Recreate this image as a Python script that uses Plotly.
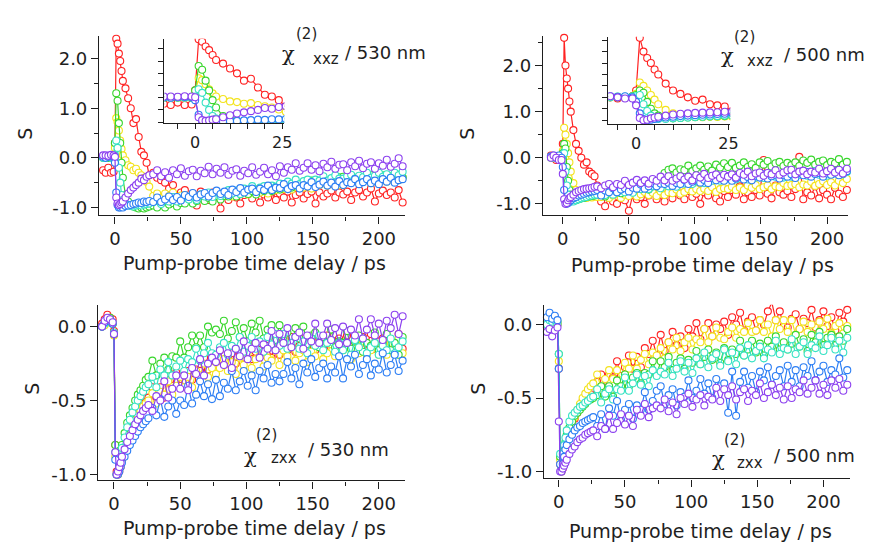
import plotly.graph_objects as go

# pump-probe delay (ps), shared by all four panels
t = [-9, -7, -5, -3, -1, 0, 1, 2, 3, 4, 5, 6, 8, 10, 12, 14, 16, 18, 20, 22, 24, 26,
     29, 32, 35, 38, 41, 44, 47, 50, 53, 56, 59, 62, 65, 68, 71, 74,
     77, 80, 83, 86, 89, 92, 95, 98, 101, 104, 107, 110, 113, 116, 119, 122,
     125, 128, 131, 134, 137, 140, 143, 146, 149, 152, 155, 158, 161, 164, 167, 170,
     173, 176, 179, 182, 185, 188, 191, 194, 197, 200, 203, 206, 209, 212, 215, 218]

# chi(2)xxz / 530 nm
tl_red = [-0.25, -0.3, -0.2, -0.3, -0.28, 0.3, 2.4, 2.3, 2.1, 1.95, 1.75, 1.55, 1.4, 1.2, 1.0, 0.7, 0.78, 0.42, 0.12, 0.05, -0.1, -0.35,
          -0.3, -0.4, -0.45, -0.5, -0.62, -0.55, -0.93, -0.7, -0.65, -0.8, -0.72, -0.96, -0.68, -0.75, -0.85, -0.7,
          -0.78, -1.02, -0.72, -0.85, -0.7, -0.8, -0.92, -0.75, -0.7, -0.82, -0.68, -0.9, -0.74, -0.8, -0.7, -0.85,
          -0.72, -0.8, -0.68, -0.9, -0.75, -0.7, -0.82, -0.73, -0.68, -0.92, -0.7, -0.78, -0.72, -0.66, -0.8, -0.7,
          -0.74, -0.68, -0.85, -0.7, -0.65, -0.78, -0.7, -0.62, -0.88, -0.72, -0.66, -0.75, -0.7, -0.8, -0.65, -0.9]
tl_yellow = [0.02, 0.0, 0.03, 0.0, 0.02, 0.2, 0.8, 0.72, 0.55, 0.35, 0.18, 0.05, -0.05, -0.15, -0.18, -0.25, -0.22, -0.3, -0.35, -0.4, -0.48, -0.58,
             -0.77, -0.72, -0.81, -0.72, -0.77, -0.7, -0.81, -0.76, -0.75, -0.84, -0.78, -0.82, -0.74, -0.85, -0.81, -0.77,
             -0.7, -0.79, -0.73, -0.71, -0.78, -0.71, -0.73, -0.64, -0.74, -0.69, -0.63, -0.7, -0.64, -0.72, -0.61, -0.65,
             -0.61, -0.63, -0.54, -0.64, -0.59, -0.53, -0.6, -0.54, -0.62, -0.51, -0.55, -0.47, -0.56, -0.51, -0.48, -0.55,
             -0.55, -0.45, -0.49, -0.42, -0.51, -0.46, -0.43, -0.51, -0.44, -0.47, -0.38, -0.48, -0.43, -0.38, -0.45, -0.4]
tl_green = [0.0, 0.02, 0.0, 0.02, 0.0, 0.3, 1.3, 1.15, 0.7, 0.3, -0.1, -0.4, -0.75, -0.88, -0.95, -0.98, -1.0, -1.02, -1.0, -1.02, -1.0, -0.98,
            -0.96, -1.0, -0.92, -1.0, -0.94, -0.91, -0.98, -0.91, -0.92, -0.83, -0.92, -0.87, -0.81, -0.87, -0.81, -0.88,
            -0.77, -0.84, -0.77, -0.78, -0.69, -0.78, -0.73, -0.67, -0.73, -0.67, -0.74, -0.63, -0.67, -0.58, -0.67, -0.61,
            -0.64, -0.59, -0.53, -0.6, -0.54, -0.61, -0.5, -0.54, -0.46, -0.55, -0.49, -0.46, -0.53, -0.46, -0.48, -0.39,
            -0.38, -0.48, -0.42, -0.4, -0.47, -0.41, -0.44, -0.35, -0.45, -0.4, -0.35, -0.43, -0.37, -0.45, -0.34, -0.39]
tl_cyan = [0.0, 0.0, 0.02, 0.0, 0.0, 0.05, 0.35, 0.2, -0.2, -0.5, -0.75, -0.85, -0.92, -0.95, -0.97, -0.98, -0.96, -0.95, -0.96, -0.94, -0.93, -0.92,
           -0.89, -0.86, -0.93, -0.86, -0.88, -0.79, -0.88, -0.83, -0.77, -0.84, -0.78, -0.85, -0.74, -0.78, -0.7, -0.79,
           -0.68, -0.77, -0.72, -0.65, -0.72, -0.66, -0.73, -0.62, -0.65, -0.57, -0.66, -0.6, -0.57, -0.63, -0.56, -0.58,
           -0.52, -0.59, -0.48, -0.52, -0.44, -0.53, -0.47, -0.44, -0.51, -0.44, -0.46, -0.37, -0.46, -0.41, -0.35, -0.42,
           -0.42, -0.37, -0.34, -0.42, -0.36, -0.39, -0.3, -0.4, -0.36, -0.3, -0.38, -0.33, -0.4, -0.3, -0.35, -0.28]
tl_blue = [0.02, 0.0, 0.02, 0.03, 0.02, -0.1, -0.7, -0.95, -1.0, -1.0, -0.98, -1.0, -0.97, -0.96, -0.95, -0.93, -0.92, -0.9, -0.91, -0.88, -0.89, -0.87,
           -0.89, -0.8, -0.89, -0.84, -0.78, -0.85, -0.79, -0.86, -0.75, -0.79, -0.71, -0.8, -0.74, -0.71, -0.78, -0.71,
           -0.66, -0.73, -0.68, -0.75, -0.64, -0.69, -0.61, -0.7, -0.64, -0.62, -0.69, -0.62, -0.65, -0.56, -0.65, -0.6,
           -0.61, -0.53, -0.63, -0.57, -0.55, -0.62, -0.55, -0.58, -0.49, -0.59, -0.54, -0.48, -0.56, -0.5, -0.58, -0.47,
           -0.55, -0.49, -0.51, -0.43, -0.53, -0.49, -0.43, -0.51, -0.46, -0.53, -0.43, -0.48, -0.4, -0.5, -0.45, -0.43]
tl_purple = [0.05, 0.05, 0.04, 0.06, 0.05, 0.02, -0.8, -0.92, -0.95, -0.93, -0.9, -0.88, -0.8, -0.72, -0.65, -0.6, -0.55, -0.5, -0.42, -0.45, -0.38, -0.35,
             -0.33, -0.25, -0.37, -0.29, -0.4, -0.25, -0.33, -0.21, -0.36, -0.27, -0.24, -0.37, -0.26, -0.31, -0.18, -0.33,
             -0.22, -0.3, -0.19, -0.34, -0.26, -0.23, -0.36, -0.26, -0.31, -0.19, -0.34, -0.28, -0.2, -0.33, -0.25, -0.37,
             -0.17, -0.3, -0.19, -0.24, -0.11, -0.26, -0.2, -0.11, -0.24, -0.15, -0.27, -0.12, -0.19, -0.08, -0.22, -0.14,
             -0.13, -0.25, -0.09, -0.17, -0.06, -0.21, -0.12, -0.09, -0.22, -0.11, -0.16, -0.04, -0.18, -0.12, -0.01, -0.17]

# chi(2)xxz / 500 nm
tr_red = [0.05, 0.0, -0.05, 0.0, 0.05, 0.3, 2.6, 2.0, 1.72, 1.5, 1.22, 1.0, 0.6, 0.3, 0.15, 0.0, -0.15, -0.1, -0.3, -0.35, -0.4, -0.6,
          -0.95, -1.05, -0.85, -0.95, -1.0, -0.88, -0.92, -1.15, -0.8, -0.9, -0.85, -1.0, -0.82, -0.7, -0.9, -0.8,
          -0.95, -0.75, -0.88, -0.7, -0.82, -0.9, -0.72, -0.85, -0.78, -1.0, -0.75, -0.82, -0.68, -0.88, -0.95, -0.72,
          -0.85, -0.7, -0.8, -0.62, -0.9, -0.75, -0.85, -0.7, -0.82, -0.05, -0.78, -0.88, -0.6, -0.75, -0.8, -0.72,
          -0.85, -0.68, 0.02, -0.9, -0.75, -0.82, -0.62, -0.88, -0.7, -0.8, -0.9, -0.65, -0.78, -0.85, -0.7, -0.55]
tr_yellow = [0.02, 0.0, 0.02, -0.02, 0.0, 0.15, 0.65, 0.5, 0.3, 0.1, -0.1, -0.3, -0.55, -0.7, -0.8, -0.85, -0.85, -0.87, -0.85, -0.86, -0.84, -0.85,
             -0.85, -0.78, -0.87, -0.82, -0.79, -0.87, -0.8, -0.83, -0.74, -0.84, -0.79, -0.74, -0.81, -0.76, -0.83, -0.73,
             -0.81, -0.75, -0.77, -0.69, -0.78, -0.74, -0.68, -0.73, -0.68, -0.72, -0.67, -0.72, -0.64, -0.74, -0.68, -0.66,
             -0.68, -0.63, -0.7, -0.65, -0.7, -0.6, -0.65, -0.59, -0.68, -0.64, -0.6, -0.68, -0.62, -0.64, -0.55, -0.61,
             -0.59, -0.57, -0.64, -0.58, -0.6, -0.52, -0.61, -0.57, -0.51, -0.59, -0.53, -0.6, -0.5, -0.55, -0.46, -0.57]
tr_green = [0.0, 0.02, 0.0, 0.02, 0.05, 0.1, 0.3, 0.2, -0.2, -0.5, -0.7, -0.8, -0.9, -0.92, -0.9, -0.88, -0.87, -0.85, -0.84, -0.83, -0.82, -0.8,
            -0.76, -0.84, -0.71, -0.75, -0.66, -0.77, -0.7, -0.66, -0.74, -0.66, -0.68, -0.58, -0.69, -0.62, -0.55, -0.64,
            -0.33, -0.26, -0.23, -0.32, -0.25, -0.27, -0.17, -0.29, -0.23, -0.17, -0.26, -0.19, -0.28, -0.15, -0.21, -0.12,
            -0.2, -0.11, -0.22, -0.17, -0.1, -0.2, -0.14, -0.22, -0.1, -0.15, -0.07, -0.19, -0.12, -0.09, -0.18, -0.11,
            -0.16, -0.1, -0.18, -0.06, -0.11, -0.04, -0.15, -0.09, -0.06, -0.16, -0.09, -0.12, -0.03, -0.15, -0.09, -0.03]
tr_cyan = [0.02, 0.0, 0.03, 0.02, 0.03, 0.05, 0.1, -0.3, -0.6, -0.8, -0.9, -0.95, -0.95, -0.92, -0.9, -0.88, -0.86, -0.85, -0.83, -0.82, -0.8, -0.8,
           -0.79, -0.81, -0.71, -0.8, -0.75, -0.69, -0.75, -0.69, -0.76, -0.64, -0.68, -0.6, -0.68, -0.62, -0.59, -0.66,
           -0.55, -0.62, -0.56, -0.63, -0.52, -0.56, -0.48, -0.57, -0.51, -0.48, -0.55, -0.48, -0.5, -0.41, -0.5, -0.45,
           -0.45, -0.38, -0.47, -0.42, -0.39, -0.47, -0.4, -0.43, -0.34, -0.44, -0.39, -0.34, -0.41, -0.37, -0.43, -0.33,
           -0.41, -0.36, -0.37, -0.29, -0.39, -0.35, -0.29, -0.37, -0.32, -0.39, -0.29, -0.34, -0.28, -0.36, -0.31, -0.29]
tr_blue = [0.03, 0.05, 0.02, 0.05, 0.0, -0.2, -0.7, -0.95, -1.0, -0.98, -0.95, -0.92, -0.88, -0.85, -0.82, -0.8, -0.78, -0.76, -0.75, -0.73, -0.72, -0.7,
           -0.82, -0.71, -0.75, -0.66, -0.75, -0.69, -0.66, -0.73, -0.65, -0.67, -0.58, -0.67, -0.62, -0.55, -0.62, -0.56,
           -0.57, -0.54, -0.61, -0.55, -0.57, -0.48, -0.57, -0.52, -0.47, -0.54, -0.48, -0.55, -0.44, -0.49, -0.41, -0.5,
           -0.4, -0.5, -0.45, -0.4, -0.47, -0.42, -0.49, -0.39, -0.43, -0.36, -0.45, -0.4, -0.37, -0.45, -0.38, -0.41,
           -0.36, -0.44, -0.33, -0.38, -0.31, -0.41, -0.35, -0.33, -0.41, -0.34, -0.37, -0.29, -0.38, -0.34, -0.29, -0.37]
tr_purple = [0.0, 0.05, 0.0, -0.05, -0.05, -0.35, -0.9, -1.0, -0.98, -0.92, -0.88, -0.85, -0.8, -0.75, -0.72, -0.7, -0.68, -0.67, -0.66, -0.65, -0.63, -0.62,
             -0.66, -0.6, -0.57, -0.64, -0.57, -0.59, -0.5, -0.59, -0.54, -0.48, -0.55, -0.49, -0.56, -0.46, -0.5, -0.41,
             -0.49, -0.4, -0.5, -0.45, -0.4, -0.47, -0.41, -0.49, -0.38, -0.43, -0.35, -0.44, -0.39, -0.36, -0.44, -0.37,
             -0.41, -0.36, -0.43, -0.33, -0.37, -0.3, -0.4, -0.34, -0.32, -0.39, -0.33, -0.36, -0.27, -0.37, -0.32, -0.27,
             -0.26, -0.36, -0.3, -0.28, -0.36, -0.3, -0.32, -0.24, -0.34, -0.29, -0.24, -0.32, -0.26, -0.34, -0.24, -0.29]

# chi(2)zxx / 530 nm
bl_red = [0.02, 0.05, 0.08, 0.06, 0.05, -0.03, -0.8, -0.98, -1.0, -0.98, -0.95, -0.9, -0.84, -0.78, -0.72, -0.68, -0.64, -0.6, -0.57, -0.54, -0.51, -0.48,
          -0.41, -0.48, -0.41, -0.48, -0.36, -0.4, -0.31, -0.4, -0.33, -0.3, -0.36, -0.29, -0.3, -0.21, -0.29, -0.24,
          -0.24, -0.16, -0.26, -0.2, -0.18, -0.25, -0.18, -0.21, -0.12, -0.22, -0.17, -0.11, -0.19, -0.13, -0.21, -0.1,
          -0.19, -0.14, -0.16, -0.07, -0.17, -0.13, -0.08, -0.15, -0.1, -0.16, -0.08, -0.13, -0.06, -0.15, -0.1, -0.08,
          -0.11, -0.06, -0.14, -0.09, -0.17, -0.07, -0.12, -0.05, -0.15, -0.1, -0.08, -0.16, -0.1, -0.13, -0.05, -0.15]
bl_yellow = [0.0, 0.01, 0.03, 0.04, 0.02, -0.06, -0.88, -1.0, -1.0, -0.96, -0.92, -0.88, -0.82, -0.76, -0.71, -0.67, -0.63, -0.6, -0.57, -0.54, -0.52, -0.5,
             -0.45, -0.52, -0.44, -0.46, -0.37, -0.46, -0.4, -0.34, -0.41, -0.34, -0.41, -0.3, -0.33, -0.25, -0.34, -0.28,
             -0.32, -0.28, -0.22, -0.3, -0.24, -0.32, -0.21, -0.26, -0.18, -0.28, -0.22, -0.2, -0.27, -0.21, -0.23, -0.15,
             -0.26, -0.16, -0.2, -0.13, -0.23, -0.18, -0.16, -0.24, -0.17, -0.2, -0.12, -0.22, -0.18, -0.12, -0.2, -0.15,
             -0.16, -0.14, -0.22, -0.15, -0.18, -0.1, -0.19, -0.16, -0.11, -0.19, -0.13, -0.19, -0.11, -0.16, -0.08, -0.18]
bl_green = [0.0, 0.03, 0.05, 0.06, 0.02, -0.05, -0.8, -1.0, -0.98, -0.92, -0.86, -0.8, -0.72, -0.65, -0.6, -0.55, -0.5, -0.46, -0.43, -0.4, -0.36, -0.34,
            -0.23, -0.33, -0.25, -0.21, -0.29, -0.2, -0.21, -0.1, -0.21, -0.14, -0.06, -0.14, -0.06, -0.14, 0.0, -0.04,
            -0.02, -0.05, 0.04, -0.08, -0.03, 0.03, -0.07, -0.01, -0.1, 0.02, -0.04, 0.04, -0.08, -0.02, 0.01, -0.09,
            0.01, -0.09, -0.04, -0.13, -0.01, -0.08, 0.0, -0.12, -0.06, -0.04, -0.14, -0.07, -0.11, -0.02, -0.14, -0.1,
            -0.11, -0.03, -0.15, -0.1, -0.06, -0.17, -0.11, -0.13, -0.04, -0.16, -0.11, -0.05, -0.16, -0.11, -0.19, -0.07]
bl_cyan = [0.0, 0.02, 0.04, 0.05, 0.03, -0.04, -0.85, -1.0, -0.98, -0.93, -0.88, -0.82, -0.75, -0.68, -0.63, -0.58, -0.54, -0.5, -0.47, -0.44, -0.41, -0.39,
           -0.34, -0.41, -0.29, -0.33, -0.24, -0.33, -0.27, -0.23, -0.3, -0.22, -0.24, -0.15, -0.23, -0.18, -0.11, -0.18,
           -0.19, -0.14, -0.11, -0.19, -0.13, -0.15, -0.07, -0.17, -0.13, -0.07, -0.15, -0.1, -0.17, -0.07, -0.12, -0.05,
           -0.13, -0.05, -0.15, -0.11, -0.07, -0.15, -0.1, -0.18, -0.08, -0.13, -0.06, -0.16, -0.11, -0.09, -0.17, -0.11,
           -0.16, -0.11, -0.19, -0.09, -0.14, -0.08, -0.18, -0.14, -0.11, -0.19, -0.13, -0.16, -0.08, -0.18, -0.14, -0.1]
bl_blue = [0.0, 0.03, 0.05, 0.04, 0.02, -0.05, -0.9, -1.0, -1.0, -0.98, -0.95, -0.92, -0.88, -0.84, -0.8, -0.77, -0.74, -0.71, -0.68, -0.66, -0.64, -0.62,
           -0.55, -0.6, -0.49, -0.61, -0.54, -0.5, -0.59, -0.5, -0.53, -0.4, -0.52, -0.46, -0.37, -0.47, -0.39, -0.49,
           -0.36, -0.47, -0.38, -0.42, -0.3, -0.43, -0.37, -0.3, -0.4, -0.33, -0.43, -0.3, -0.35, -0.26, -0.38, -0.32,
           -0.37, -0.32, -0.24, -0.35, -0.28, -0.39, -0.25, -0.31, -0.22, -0.34, -0.28, -0.25, -0.35, -0.27, -0.31, -0.2,
           -0.35, -0.22, -0.27, -0.19, -0.32, -0.26, -0.22, -0.33, -0.25, -0.29, -0.18, -0.31, -0.26, -0.19, -0.3, -0.23]
bl_purple = [0.0, 0.04, 0.06, 0.05, 0.03, -0.05, -0.85, -1.0, -0.98, -0.95, -0.92, -0.88, -0.83, -0.78, -0.74, -0.7, -0.66, -0.63, -0.6, -0.57, -0.55, -0.53,
             -0.57, -0.47, -0.5, -0.37, -0.48, -0.42, -0.33, -0.42, -0.33, -0.43, -0.28, -0.32, -0.22, -0.33, -0.25, -0.21,
             -0.24, -0.16, -0.26, -0.18, -0.28, -0.15, -0.2, -0.1, -0.22, -0.15, -0.11, -0.21, -0.12, -0.15, -0.03, -0.16,
             -0.05, -0.11, -0.01, -0.14, -0.07, -0.04, -0.15, -0.06, -0.1, 0.02, -0.11, -0.06, 0.02, -0.09, -0.01, -0.12,
             0.0, -0.11, -0.02, -0.06, 0.05, -0.08, -0.02, 0.05, -0.06, 0.02, -0.09, 0.04, -0.01, 0.08, -0.05, 0.07]

# chi(2)zxx / 500 nm
br_red = [-0.02, 0.02, 0.03, 0.05, 0.0, -0.3, -0.95, -1.0, -0.98, -0.93, -0.88, -0.83, -0.76, -0.7, -0.64, -0.6, -0.56, -0.52, -0.5, -0.47, -0.45, -0.43,
          -0.39, -0.34, -0.43, -0.34, -0.36, -0.25, -0.35, -0.29, -0.21, -0.3, -0.22, -0.29, -0.16, -0.2, -0.11, -0.21,
          -0.07, -0.18, -0.12, -0.05, -0.14, -0.08, -0.16, -0.03, -0.08, 0.01, -0.1, -0.03, 0.01, -0.08, 0.0, -0.03,
          0.02, -0.07, 0.05, 0.0, 0.08, -0.04, 0.02, 0.05, -0.04, 0.03, 0.0, 0.09, 0.15, 0.03, 0.09, -0.01,
          -0.02, 0.04, 0.07, -0.03, 0.04, 0.01, 0.1, -0.02, 0.03, 0.09, -0.01, 0.05, -0.04, 0.08, 0.02, 0.1]
br_yellow = [0.0, 0.02, 0.04, 0.02, 0.0, -0.25, -0.92, -1.0, -0.97, -0.92, -0.87, -0.82, -0.74, -0.68, -0.63, -0.58, -0.54, -0.5, -0.47, -0.44, -0.42, -0.4,
             -0.34, -0.43, -0.37, -0.31, -0.37, -0.31, -0.38, -0.26, -0.3, -0.21, -0.3, -0.24, -0.2, -0.27, -0.19, -0.21,
             -0.16, -0.23, -0.12, -0.17, -0.09, -0.18, -0.12, -0.09, -0.17, -0.1, -0.12, -0.03, -0.12, -0.08, -0.02, -0.09,
             -0.1, -0.05, -0.02, -0.09, -0.03, -0.05, 0.01, -0.05, -0.04, 0.03, -0.05, 0.0, -0.08, 0.03, -0.03, 0.03,
             -0.05, 0.03, -0.07, -0.03, 0.02, -0.05, 0.0, -0.08, 0.02, -0.03, 0.04, -0.06, -0.01, 0.01, -0.06, -0.01]
br_green = [0.02, 0.05, 0.03, 0.04, 0.02, -0.2, -0.9, -0.98, -0.92, -0.86, -0.8, -0.75, -0.7, -0.66, -0.62, -0.6, -0.58, -0.56, -0.54, -0.52, -0.51, -0.5,
            -0.48, -0.42, -0.49, -0.42, -0.49, -0.38, -0.42, -0.34, -0.42, -0.36, -0.33, -0.4, -0.33, -0.34, -0.25, -0.34,
            -0.25, -0.29, -0.22, -0.31, -0.26, -0.23, -0.3, -0.24, -0.26, -0.18, -0.27, -0.22, -0.17, -0.24, -0.19, -0.26,
            -0.16, -0.24, -0.17, -0.2, -0.11, -0.21, -0.17, -0.11, -0.19, -0.13, -0.21, -0.11, -0.15, -0.08, -0.17, -0.12,
            -0.17, -0.13, -0.07, -0.15, -0.1, -0.18, -0.07, -0.12, -0.05, -0.14, -0.09, -0.07, -0.14, -0.08, -0.11, -0.03]
br_cyan = [0.0, 0.03, 0.02, 0.03, 0.0, -0.2, -0.88, -0.95, -0.88, -0.82, -0.77, -0.72, -0.66, -0.62, -0.6, -0.58, -0.56, -0.55, -0.53, -0.52, -0.5, -0.49,
           -0.44, -0.53, -0.47, -0.44, -0.51, -0.44, -0.45, -0.36, -0.45, -0.4, -0.34, -0.41, -0.35, -0.42, -0.31, -0.35,
           -0.32, -0.34, -0.26, -0.35, -0.3, -0.25, -0.32, -0.26, -0.33, -0.23, -0.27, -0.19, -0.29, -0.23, -0.2, -0.28,
           -0.17, -0.25, -0.19, -0.27, -0.16, -0.21, -0.14, -0.23, -0.18, -0.15, -0.23, -0.17, -0.19, -0.11, -0.2, -0.16,
           -0.17, -0.1, -0.2, -0.15, -0.12, -0.2, -0.14, -0.16, -0.08, -0.18, -0.14, -0.09, -0.17, -0.11, -0.19, -0.09]
br_blue = [0.05, 0.08, 0.04, 0.06, 0.03, -0.3, -0.95, -1.0, -0.95, -0.9, -0.85, -0.82, -0.78, -0.75, -0.72, -0.7, -0.69, -0.67, -0.66, -0.65, -0.64, -0.63,
           -0.69, -0.61, -0.71, -0.57, -0.62, -0.52, -0.65, -0.58, -0.54, -0.64, -0.55, -0.58, -0.46, -0.58, -0.52, -0.45,
           -0.42, -0.54, -0.48, -0.44, -0.55, -0.46, -0.49, -0.38, -0.5, -0.45, -0.37, -0.47, -0.4, -0.5, -0.37, -0.42,
           -0.4, -0.6, -0.32, -0.62, -0.39, -0.32, -0.43, -0.35, -0.46, -0.32, -0.38, -0.29, -0.41, -0.35, -0.31, -0.42,
           -0.28, -0.39, -0.31, -0.42, -0.29, -0.35, -0.25, -0.38, -0.32, -0.28, -0.39, -0.31, -0.34, -0.23, -0.36, -0.31]
br_purple = [-0.05, -0.03, -0.08, -0.04, -0.02, -0.66, -1.0, -1.0, -0.98, -0.96, -0.94, -0.92, -0.88, -0.85, -0.83, -0.8, -0.78, -0.77, -0.75, -0.74, -0.73, -0.72,
             -0.76, -0.69, -0.71, -0.62, -0.71, -0.67, -0.61, -0.68, -0.62, -0.69, -0.58, -0.62, -0.54, -0.63, -0.57, -0.55,
             -0.57, -0.51, -0.59, -0.53, -0.61, -0.5, -0.54, -0.47, -0.56, -0.51, -0.48, -0.55, -0.49, -0.51, -0.43, -0.52,
             -0.44, -0.48, -0.42, -0.51, -0.46, -0.44, -0.52, -0.45, -0.48, -0.4, -0.5, -0.46, -0.41, -0.48, -0.43, -0.51,
             -0.42, -0.5, -0.44, -0.46, -0.38, -0.47, -0.43, -0.38, -0.47, -0.41, -0.48, -0.38, -0.43, -0.37, -0.45, -0.41]

colors = ["#ff2222", "#f3e31c", "#38d62c", "#36e2c4", "#2c7ef4", "#8c40ef"]
FONT = "DejaVu Sans"
INK = "#1e1e1e"
W, H = 877, 542


def dom_x(left, right):
    return [left / W, right / W]


def dom_y(top, bottom):
    return [1 - bottom / H, 1 - top / H]


panels = [
    ("x", "y", "x5", "y5", [tl_red, tl_yellow, tl_green, tl_cyan, tl_blue, tl_purple]),
    ("x2", "y2", "x6", "y6", [tr_red, tr_yellow, tr_green, tr_cyan, tr_blue, tr_purple]),
    ("x3", "y3", None, None, [bl_red, bl_yellow, bl_green, bl_cyan, bl_blue, bl_purple]),
    ("x4", "y4", None, None, [br_red, br_yellow, br_green, br_cyan, br_blue, br_purple]),
]


def trace_style(c):
    return dict(mode="lines+markers", line=dict(color=c, width=1.2),
                marker=dict(symbol="circle", size=7, color="white", line=dict(color=c, width=1.1)),
                showlegend=False, hoverinfo="skip")


fig = go.Figure()
for xa, ya, xi, yi, series in panels:
    for ys, c in zip(series, colors):
        assert len(ys) == len(t)
        fig.add_trace(go.Scatter(x=t, y=ys, xaxis=xa, yaxis=ya, cliponaxis=False, **trace_style(c)))
    if xi:
        # inset: same data, zoomed on the first 25 ps
        for ys, c in zip(series, colors):
            fig.add_trace(go.Scatter(x=t, y=ys, xaxis=xi, yaxis=yi, **trace_style(c)))


def axis(**kw):
    base = dict(showline=True, linecolor=INK, linewidth=1.3, ticks="outside", tickcolor=INK,
                tickwidth=1.3, ticklen=7, showgrid=False, zeroline=False,
                tickfont=dict(family=FONT, size=18, color=INK))
    base.update(kw)
    return base


xt = dict(tickvals=[0, 50, 100, 150, 200], ticktext=["0", "50", "100", "150", "200"],
          minor=dict(ticks="outside", ticklen=4, tickcolor=INK, tickwidth=1.3, dtick=25, tick0=0))
y_top = dict(tickvals=[-1, 0, 1, 2], ticktext=["-1.0", "0.0", "1.0", "2.0"],
             minor=dict(ticks="outside", ticklen=4, tickcolor=INK, tickwidth=1.3, dtick=0.5, tick0=0))
y_bot = dict(tickvals=[-1, -0.5, 0], ticktext=["-1.0", "-0.5", "0.0"])

inset_x = dict(tickvals=[-5, 0, 5, 10, 15, 20, 25], ticktext=["", "0", "", "", "", "", "25"],
               ticklen=5, tickfont=dict(family=FONT, size=16, color=INK))
inset_y = dict(dtick=0.5, tick0=0, showticklabels=False, ticklen=5)

fig.update_layout(
    width=W, height=H, margin=dict(l=0, r=0, t=0, b=0),
    paper_bgcolor="white", plot_bgcolor="rgba(0,0,0,0)",
    xaxis=axis(domain=dom_x(100, 409), range=[-12, 220], anchor="y", **xt),
    yaxis=axis(domain=dom_y(36.5, 217), range=[-1.16, 2.45], anchor="x", **y_top),
    xaxis2=axis(domain=dom_x(548, 856), range=[-15, 216], anchor="y2", **xt),
    yaxis2=axis(domain=dom_y(35.8, 217), range=[-1.25, 2.65], anchor="x2", **y_top),
    xaxis3=axis(domain=dom_x(99, 409), range=[-12, 220], anchor="y3", **xt),
    yaxis3=axis(domain=dom_y(307, 484), range=[-1.04, 0.148], anchor="x3", **y_bot),
    xaxis4=axis(domain=dom_x(549, 858), range=[-11.2, 220.2], anchor="y4", **xt),
    yaxis4=axis(domain=dom_y(307, 482), range=[-1.047, 0.135], anchor="x4", **y_bot),
    xaxis5=axis(domain=dom_x(166, 287), range=[-8.8, 25.6], anchor="y5", **inset_x),
    yaxis5=axis(domain=dom_y(39, 124), range=[-1.04, 2.42], anchor="x5", **inset_y),
    xaxis6=axis(domain=dom_x(614, 737), range=[-7.5, 25.5], anchor="y6", **inset_x),
    yaxis6=axis(domain=dom_y(37, 125), range=[-1.17, 2.65], anchor="x6", **inset_y),
)


def label(text, px, py, size, angle=0, family=FONT):
    fig.add_annotation(text=text, x=px / W, y=1 - py / H, xref="paper", yref="paper",
                       xanchor="center", yanchor="middle", showarrow=False, textangle=angle,
                       font=dict(family=family, size=size, color=INK))


for cx, cy in [(257, 265), (709, 267), (257, 532), (707, 535)]:
    label("Pump-probe time delay / ps", cx, cy, 19)
for cx, cy in [(25, 135), (471, 135), (32, 392), (483, 392)]:
    label("S", cx, cy, 19, angle=-90)

# chi(2) annotations: symbol, superscript, subscript, wavelength
chi_labels = [
    ((291, 54), (309, 34), (329, 59), "xxz", (389, 53), "/ 530 nm"),
    ((734, 56), (751, 37), (767, 61), "xxz", (832, 55), "/ 500 nm"),
    ((253, 459), (269, 438), (287, 461), "zxx", (352, 453), "/ 530 nm"),
    ((725, 462), (741, 443), (757, 466), "zxx", (822, 459), "/ 500 nm"),
]
for chi, sup, sub, subtext, wl, wltext in chi_labels:
    label("χ", chi[0], chi[1], 21, family="DejaVu Serif")
    label("(2)", sup[0], sup[1], 15)
    label(subtext, sub[0], sub[1], 15)
    label(wltext, wl[0], wl[1], 18)

fig.write_html("out.html", config={"displayModeBar": False},
               post_script="document.body.style.margin='0';")
